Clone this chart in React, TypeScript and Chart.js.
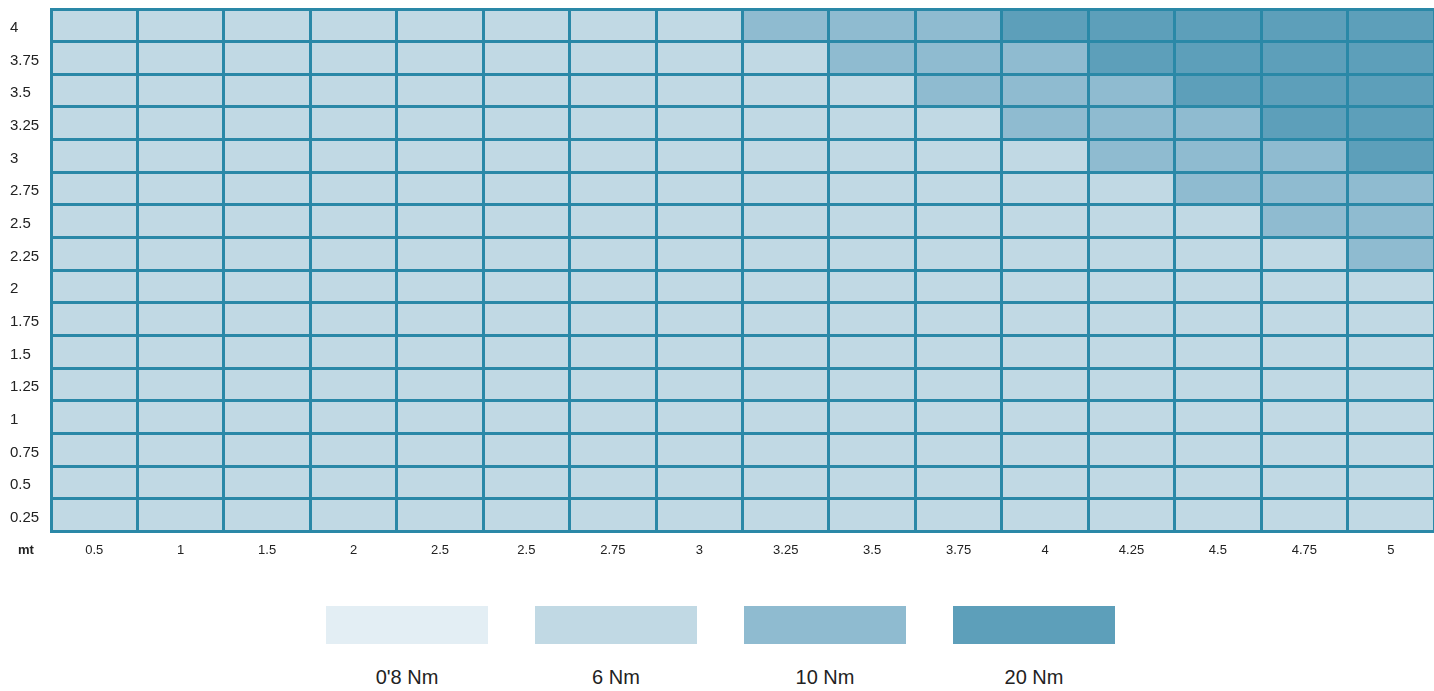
import React, { useEffect, useRef } from 'react';
import { Chart, registerables } from 'chart.js';

Chart.register(...registerables);

// Column categories (x axis, metres)
const xLabels = ['0.5', '1', '1.5', '2', '2.5', '2.5', '2.75', '3', '3.25', '3.5', '3.75', '4', '4.25', '4.5', '4.75', '5'];
// Row categories (y axis), top to bottom
const yLabels = ['4', '3.75', '3.5', '3.25', '3', '2.75', '2.5', '2.25', '2', '1.75', '1.5', '1.25', '1', '0.75', '0.5', '0.25'];

// Legend levels
const levelLabels = ["0'8 Nm", '6 Nm', '10 Nm', '20 Nm'];
const levelValues = [0.8, 6, 10, 20];
const levelColors = ['#e3eef4', '#c1d9e4', '#8fbbd0', '#5d9fba'];

// Torque (Nm) per cell, one array per row (top row first)
const row_4_00 = [6, 6, 6, 6, 6, 6, 6, 6, 10, 10, 10, 20, 20, 20, 20, 20];
const row_3_75 = [6, 6, 6, 6, 6, 6, 6, 6, 6, 10, 10, 10, 20, 20, 20, 20];
const row_3_50 = [6, 6, 6, 6, 6, 6, 6, 6, 6, 6, 10, 10, 10, 20, 20, 20];
const row_3_25 = [6, 6, 6, 6, 6, 6, 6, 6, 6, 6, 6, 10, 10, 10, 20, 20];
const row_3_00 = [6, 6, 6, 6, 6, 6, 6, 6, 6, 6, 6, 6, 10, 10, 10, 20];
const row_2_75 = [6, 6, 6, 6, 6, 6, 6, 6, 6, 6, 6, 6, 6, 10, 10, 10];
const row_2_50 = [6, 6, 6, 6, 6, 6, 6, 6, 6, 6, 6, 6, 6, 6, 10, 10];
const row_2_25 = [6, 6, 6, 6, 6, 6, 6, 6, 6, 6, 6, 6, 6, 6, 6, 10];
const row_2_00 = [6, 6, 6, 6, 6, 6, 6, 6, 6, 6, 6, 6, 6, 6, 6, 6];
const row_1_75 = [6, 6, 6, 6, 6, 6, 6, 6, 6, 6, 6, 6, 6, 6, 6, 6];
const row_1_50 = [6, 6, 6, 6, 6, 6, 6, 6, 6, 6, 6, 6, 6, 6, 6, 6];
const row_1_25 = [6, 6, 6, 6, 6, 6, 6, 6, 6, 6, 6, 6, 6, 6, 6, 6];
const row_1_00 = [6, 6, 6, 6, 6, 6, 6, 6, 6, 6, 6, 6, 6, 6, 6, 6];
const row_0_75 = [6, 6, 6, 6, 6, 6, 6, 6, 6, 6, 6, 6, 6, 6, 6, 6];
const row_0_50 = [6, 6, 6, 6, 6, 6, 6, 6, 6, 6, 6, 6, 6, 6, 6, 6];
const row_0_25 = [6, 6, 6, 6, 6, 6, 6, 6, 6, 6, 6, 6, 6, 6, 6, 6];

const rows = [
  row_4_00, row_3_75, row_3_50, row_3_25, row_3_00, row_2_75, row_2_50, row_2_25,
  row_2_00, row_1_75, row_1_50, row_1_25, row_1_00, row_0_75, row_0_50, row_0_25,
];

const gridColor = '#2a88a7';
const FONT = "'Liberation Sans', Arial, sans-serif";

const colorFor = (v: number) => levelColors[levelValues.indexOf(v)] ?? levelColors[1];

export default function App() {
  const canvasRef = useRef<HTMLCanvasElement | null>(null);

  useEffect(() => {
    if (!canvasRef.current) return;
    const n = yLabels.length;
    const datasets = rows.map((row, r) => ({
      label: yLabels[r],
      data: row.map(() => [n - r - 1, n - r]),
      backgroundColor: row.map(colorFor),
      borderWidth: 0,
      barPercentage: 1,
      categoryPercentage: 1,
      grouped: false,
    }));

    const chart = new Chart(canvasRef.current, {
      type: 'bar',
      data: { labels: xLabels, datasets: datasets as any },
      options: {
        animation: false,
        responsive: true,
        maintainAspectRatio: false,
        layout: { padding: { left: 10, top: 9, right: 0, bottom: 0 } },
        plugins: { legend: { display: false }, tooltip: { enabled: false } },
        scales: {
          x: {
            type: 'category',
            offset: true,
            grid: { offset: true, color: gridColor, lineWidth: 3, z: 1, drawTicks: false },
            border: { display: false },
            ticks: {
              color: '#222',
              font: { size: 13, family: FONT },
              padding: 11,
              maxRotation: 0,
              autoSkip: false,
            },
          },
          y: {
            type: 'linear',
            min: 0,
            max: n,
            afterBuildTicks: (s: any) => {
              s.ticks = Array.from({ length: n + 1 }, (_, i) => ({ value: i }));
            },
            afterFit: (s: any) => {
              s.width = 41;
            },
            grid: { color: gridColor, lineWidth: 3, z: 1, drawTicks: false },
            border: { display: true, color: gridColor, width: 3, z: 1 },
            ticks: {
              autoSkip: false,
              color: '#222',
              font: { size: 15, family: FONT },
              crossAlign: 'far',
              padding: 0,
              labelOffset: 19,
              callback: (v: any) => (v >= 1 ? yLabels[n - v] : ''),
            },
          },
        },
      } as any,
    });
    return () => chart.destroy();
  }, []);

  return (
    <div style={{ position: 'absolute', left: 0, top: 0, width: 1434, height: 691, background: '#fff', fontFamily: FONT }}>
      <div style={{ position: 'absolute', left: 0, top: 0, width: 1434, height: 569 }}>
        <canvas ref={canvasRef} />
      </div>
      <div style={{ position: 'absolute', left: 18, top: 542, fontSize: 13, fontWeight: 'bold', color: '#222', lineHeight: '16px' }}>mt</div>
      {levelLabels.map((lab, i) => (
        <div key={lab} style={{ position: 'absolute', left: 326 + i * 209, top: 606, width: 162 }}>
          <div style={{ width: 162, height: 38, background: levelColors[i] }} />
          <div style={{ marginTop: 21, textAlign: 'center', fontSize: 20, color: '#222', lineHeight: '24px' }}>{lab}</div>
        </div>
      ))}
    </div>
  );
}
